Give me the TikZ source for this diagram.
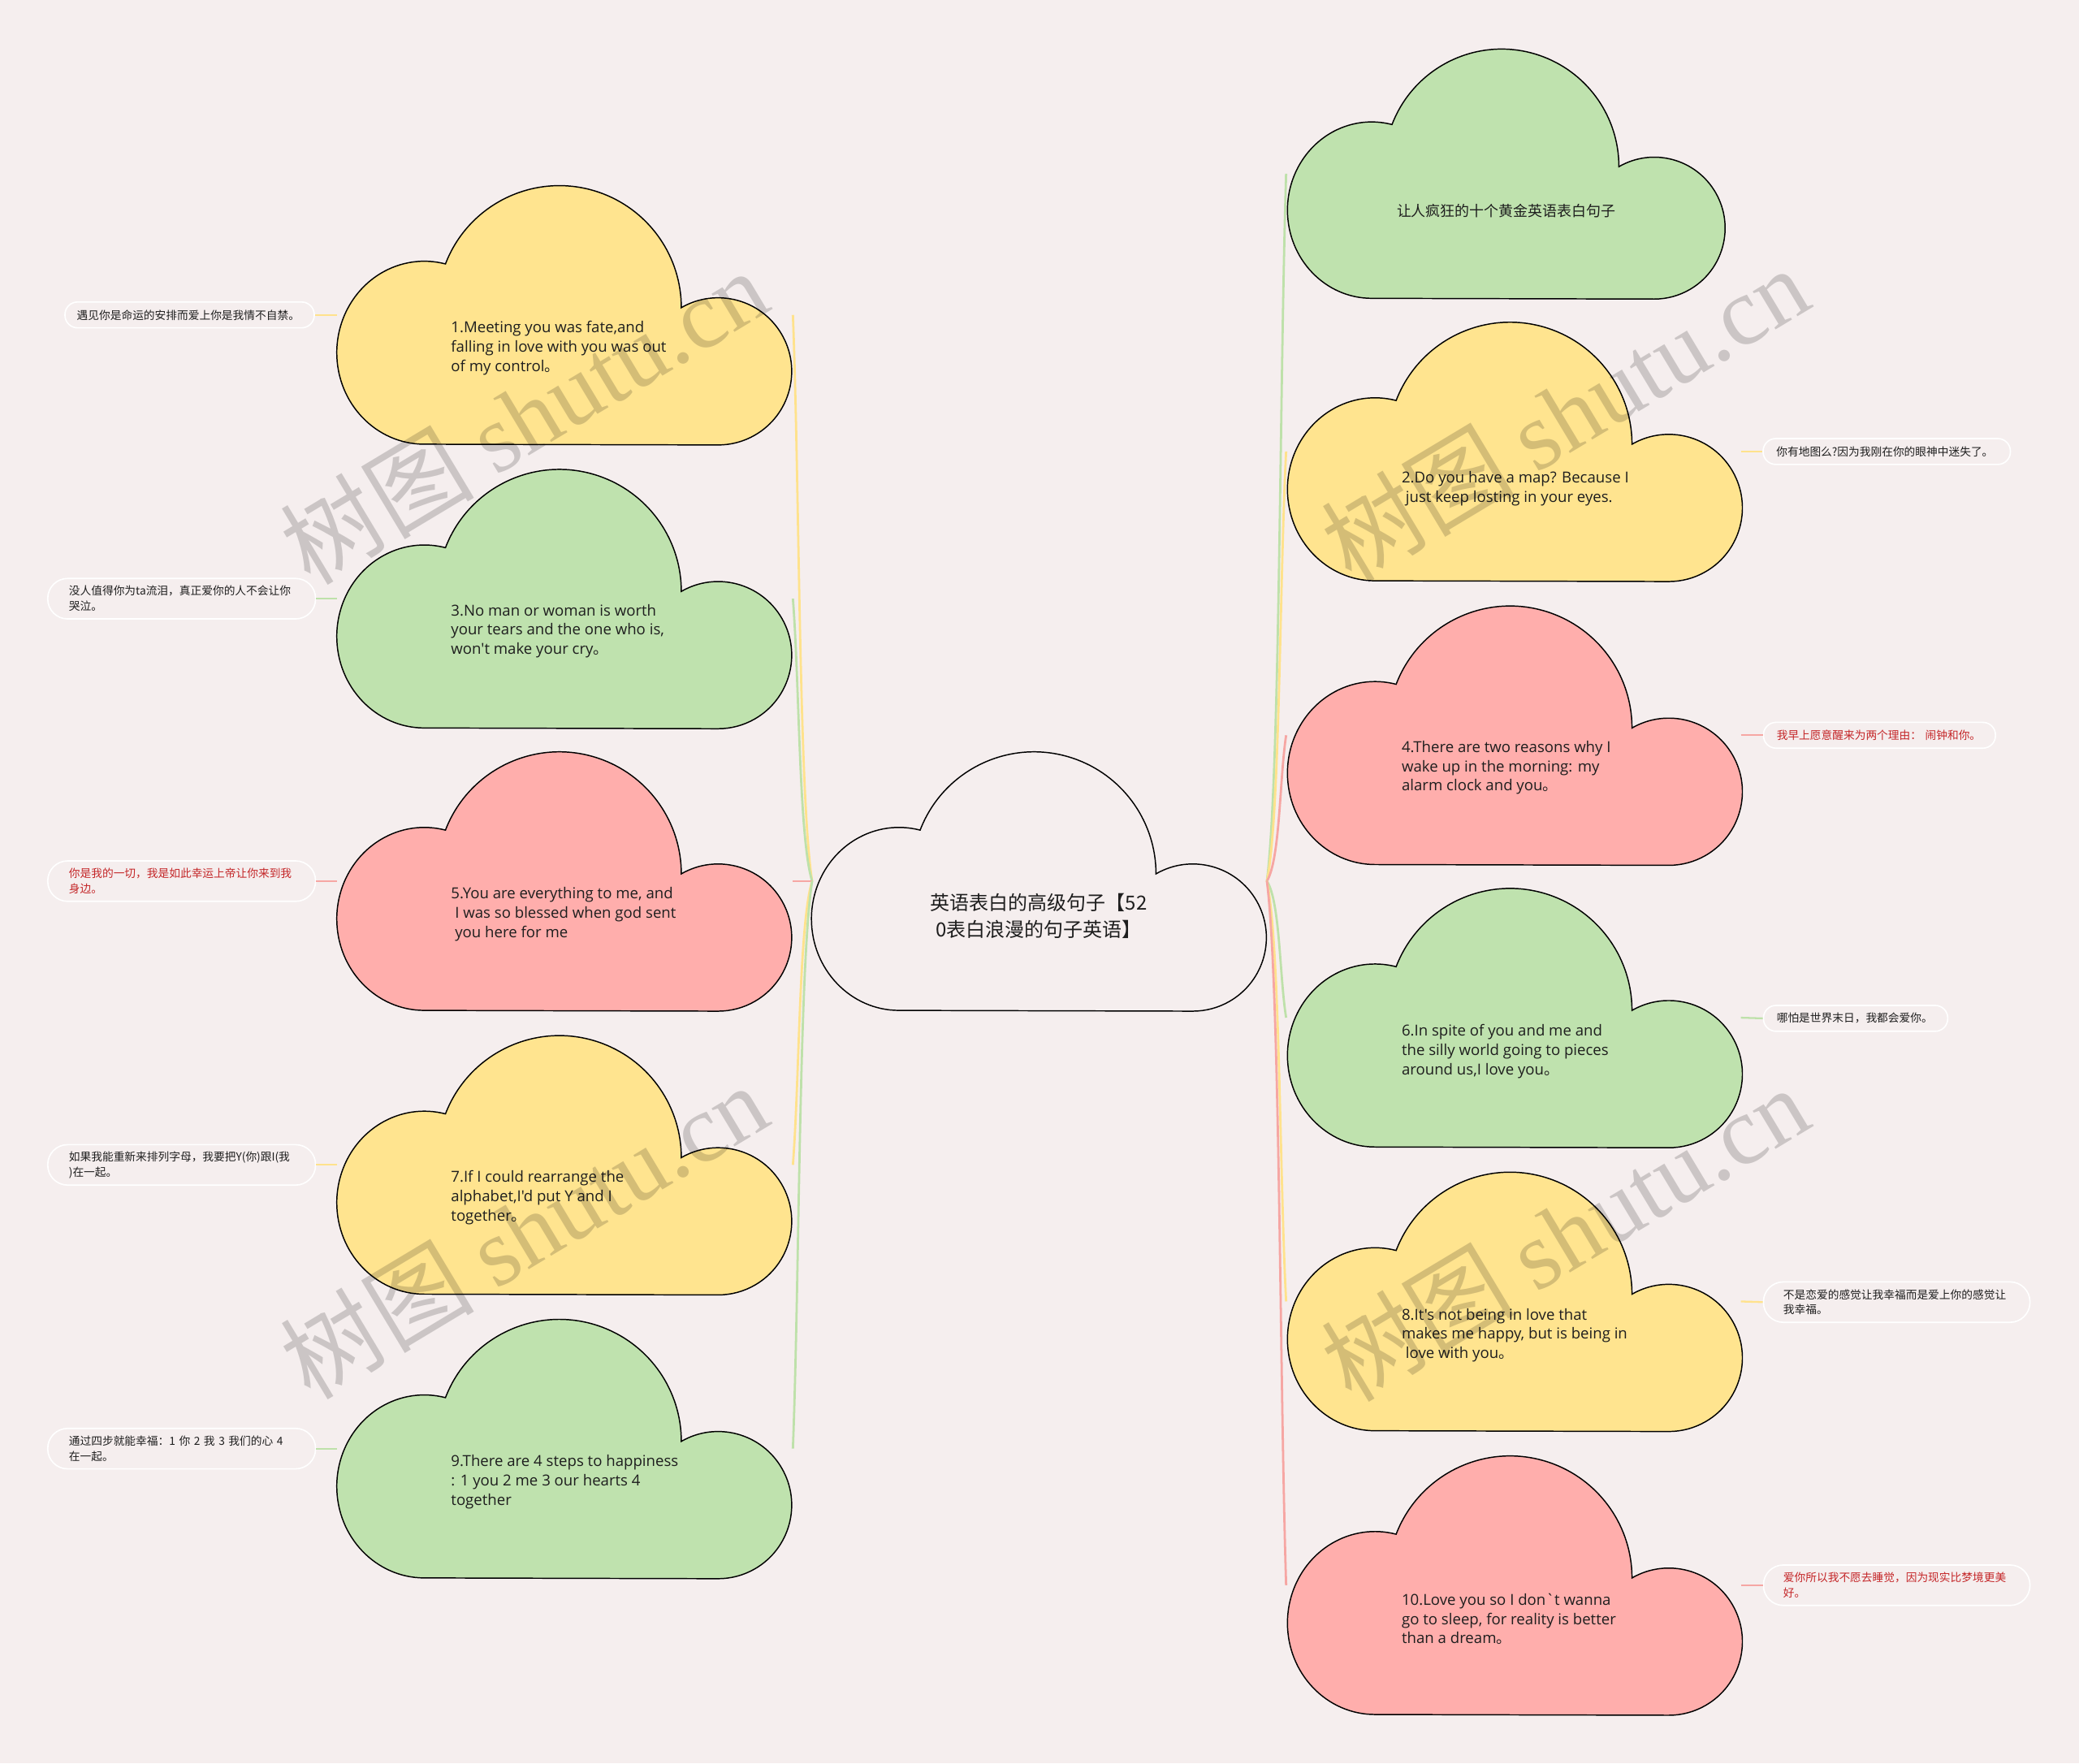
\documentclass[tikz,border=0pt]{standalone}
\usepackage{fontspec}
\setmainfont{Noto Sans CJK SC}
\newfontfamily\cjk{Noto Sans CJK SC}
\newfontfamily\latin{Open Sans}
\newfontfamily\wmserif{Liberation Serif}
\usetikzlibrary{calc}
\definecolor{bg}{RGB}{245,238,238}
\definecolor{cyel}{RGB}{255,228,143}
\definecolor{cgrn}{RGB}{191,226,174}
\definecolor{cred}{RGB}{255,174,172}
\definecolor{lyel}{RGB}{255,226,140}
\definecolor{lgrn}{RGB}{190,225,170}
\definecolor{lred}{RGB}{246,166,163}
\definecolor{txt}{RGB}{30,30,30}
\definecolor{rtxt}{RGB}{196,38,40}
\tikzset{
  cloudshape/.pic={\path[pic actions, draw=black, line width=0.9pt]
    (66,195) arc[start angle=90,end angle=284,x radius=66,y radius=69]
    arc[start angle=-159,end angle=0,radius=92]
    arc[start angle=-120,end angle=90,radius=55.5] -- cycle;},
  conn/.style={draw=#1, line width=1.7pt},
  leafconn/.style={draw=#1, line width=1.4pt},
  ctext/.style={font=\latin\fontsize{11.4}{14.6}\selectfont, align=left, anchor=west, inner sep=0pt, text=txt},
  leafbox/.style={draw=white, line width=1pt, align=left, inner ysep=0pt, font=\fontsize{8.4}{11.5}\selectfont, text=txt},
  leafone/.style={leafbox, rounded corners=9.5pt, minimum height=19.5pt},
  leaftwo/.style={leafbox, rounded corners=15pt, minimum height=30.5pt},
  wm/.style={font=\fontsize{73}{73}\selectfont, text=black, opacity=0.17, rotate=31, inner sep=0pt}
}
\newcommand{\lconn}[2]{\draw[conn=#1] let \p1=(J1), \p2=(#2) in (\p1) .. controls (\x1-10pt,{\y1+0.15*(\y2-\y1)}) and (\x2+5pt,{\y2-0.3*(\y2-\y1)}) .. (\p2);}
\newcommand{\rconn}[2]{\draw[conn=#1] let \p1=(J2), \p2=(#2) in (\p1) .. controls (\x1+10pt,{\y1+0.15*(\y2-\y1)}) and (\x2-5pt,{\y2-0.3*(\y2-\y1)}) .. (\p2);}
\begin{document}
\begin{tikzpicture}[x=1pt,y=-1pt]
\fill[bg] (0,0) rectangle (1568,1330);
\useasboundingbox (0,0) rectangle (1568,1330);
% junctions and ends
\coordinate (J1) at (612.5,664.5);
\coordinate (J2) at (955.5,664.5);
\coordinate (e1) at (598,237.5);
\coordinate (e3) at (598,451.5);
\coordinate (e5) at (598,664.5);
\coordinate (e7) at (598,878.5);
\coordinate (e9) at (598,1092.5);
\coordinate (e0) at (970,131);
\coordinate (e2) at (970,340.5);
\coordinate (e4) at (970,554.5);
\coordinate (e6) at (970,767.5);
\coordinate (e8) at (970,981.5);
\coordinate (e10) at (970,1195.5);
\coordinate (a1) at (254,237.5);
\coordinate (a3) at (254,451.5);
\coordinate (a5) at (254,664.5);
\coordinate (a7) at (254,878.5);
\coordinate (a9) at (254,1092.5);
\coordinate (b2) at (1313,340.5);
\coordinate (b4) at (1313,554.5);
\coordinate (b6) at (1313,767.5);
\coordinate (b8) at (1313,981.5);
\coordinate (b10) at (1313,1195.5);
% main connectors
\lconn{lyel}{e1}
\lconn{lgrn}{e3}
\draw[conn=lred] (J1) -- (e5);
\lconn{lyel}{e7}
\lconn{lgrn}{e9}
\rconn{lgrn}{e0}
\rconn{lyel}{e2}
\rconn{lred}{e4}
\rconn{lgrn}{e6}
\rconn{lyel}{e8}
\rconn{lred}{e10}
% clouds
\pic[fill=cyel] at (254,140) {cloudshape};
\pic[fill=cgrn] at (254,354) {cloudshape};
\pic[fill=cred] at (254,567) {cloudshape};
\pic[fill=cyel] at (254,781) {cloudshape};
\pic[fill=cgrn] at (254,995) {cloudshape};
\pic[fill=bg] at (612,567) {cloudshape};
\pic[fill=cgrn, xscale=0.962, yscale=0.964] at (971,37) {cloudshape};
\pic[fill=cyel] at (971,243) {cloudshape};
\pic[fill=cred] at (971,457) {cloudshape};
\pic[fill=cgrn] at (971,670) {cloudshape};
\pic[fill=cyel] at (971,884) {cloudshape};
\pic[fill=cred] at (971,1098) {cloudshape};
% cloud texts
\node[font=\fontsize{14.7}{20}\selectfont, align=center, text=txt, inner sep=0pt] (tc) at (783.5,691) {英语表白的高级句子【52\\0表白浪漫的句子英语】};
\node[font=\fontsize{11}{14}\selectfont, text=txt, inner sep=0pt] (t0) at (1136,159) {让人疯狂的十个黄金英语表白句子};
\node[ctext] (t1) at (340,262.5) {1.Meeting you was fate,and\\falling in love with you was out\\of my control{\cjk 。}};
\node[ctext] (t3) at (340,476) {3.No man or woman is worth\\your tears and the one who is,\\won't make your cry{\cjk 。}};
\node[ctext] (t5) at (340,689.5) {5.You are everything to me, and\\\hspace*{3pt}I was so blessed when god sent\\\hspace*{3pt}you here for me};
\node[ctext] (t7) at (340,903) {7.If I could rearrange the\\alphabet,I'd put Y and I\\together{\cjk 。}};
\node[ctext] (t9) at (340,1117.5) {9.There are 4 steps to happiness\\: 1 you 2 me 3 our hearts 4\\together};
\node[ctext] (t2) at (1057,368.5) {2.Do you have a map? Because I\\\hspace*{3pt}just keep losting in your eyes.};
\node[ctext] (t4) at (1057,579) {4.There are two reasons why I\\wake up in the morning: my\\alarm clock and you{\cjk 。}};
\node[ctext] (t6) at (1057,793) {6.In spite of you and me and\\the silly world going to pieces\\around us,I love you{\cjk 。}};
\node[ctext] (t8) at (1057,1007) {8.It's not being in love that\\makes me happy, but is being in\\\hspace*{3pt}love with you{\cjk 。}};
\node[ctext] (t10) at (1057,1221) {10.Love you so I don`t wanna\\go to sleep, for reality is better\\than a dream{\cjk 。}};
% leaves
\node[leafone, text width=170pt, inner xsep=9pt] (l1) at (143,237.5) {遇见你是命运的安排而爱上你是我情不自禁。};
\node[leaftwo, text width=170pt, inner xsep=16pt] (l3) at (137,451.5) {没人值得你为ta流泪，真正爱你的人不会让你\\哭泣。};
\node[leaftwo, text width=170pt, inner xsep=16pt, text=rtxt] (l5) at (137,664.5) {你是我的一切，我是如此幸运上帝让你来到我\\身边。};
\node[leaftwo, text width=170pt, inner xsep=16pt] (l7) at (137,878.5) {如果我能重新来排列字母，我要把Y(你)跟I(我\\)在一起。};
\node[leaftwo, text width=170pt, inner xsep=16pt] (l9) at (137,1092.5) {通过四步就能幸福：1 你 2 我 3 我们的心 4\\在一起。};
\node[leafone, text width=166.5pt, inner xsep=10pt] (l2) at (1423,340.5) {你有地图么?因为我刚在你的眼神中迷失了。};
\node[leafone, text width=155pt, inner xsep=10pt, text=rtxt] (l4) at (1417.5,554.5) {我早上愿意醒来为两个理由：~闹钟和你。};
\node[leafone, text width=119pt, inner xsep=10pt] (l6) at (1399.5,768) {哪怕是世界末日，我都会爱你。};
\node[leaftwo, text width=171pt, inner xsep=15pt] (l8) at (1430.5,982) {不是恋爱的感觉让我幸福而是爱上你的感觉让\\我幸福。};
\node[leaftwo, text width=171pt, inner xsep=15pt, text=rtxt] (l10) at (1430.5,1195.5) {爱你所以我不愿去睡觉，因为现实比梦境更美\\好。};
% leaf connectors
\draw[leafconn=lyel] (l1.east) -- (a1);
\draw[leafconn=lgrn] (l3.east) -- (a3);
\draw[leafconn=lred] (l5.east) -- (a5);
\draw[leafconn=lyel] (l7.east) -- (a7);
\draw[leafconn=lgrn] (l9.east) -- (a9);
\draw[leafconn=lyel] (b2) -- (l2.west);
\draw[leafconn=lred] (b4) -- (l4.west);
\draw[leafconn=lgrn] (b6) -- (l6.west);
\draw[leafconn=lyel] (b8) -- (l8.west);
\draw[leafconn=lred] (b10) -- (l10.west);
% watermarks
\node[wm] (w1) at (395,314) {树图 {\wmserif shutu.cn}};
\node[wm] (w2) at (1180,312) {树图 {\wmserif shutu.cn}};
\node[wm] (w3) at (395,928) {树图 {\wmserif shutu.cn}};
\node[wm] (w4) at (1180,930) {树图 {\wmserif shutu.cn}};
\end{tikzpicture}
\end{document}
